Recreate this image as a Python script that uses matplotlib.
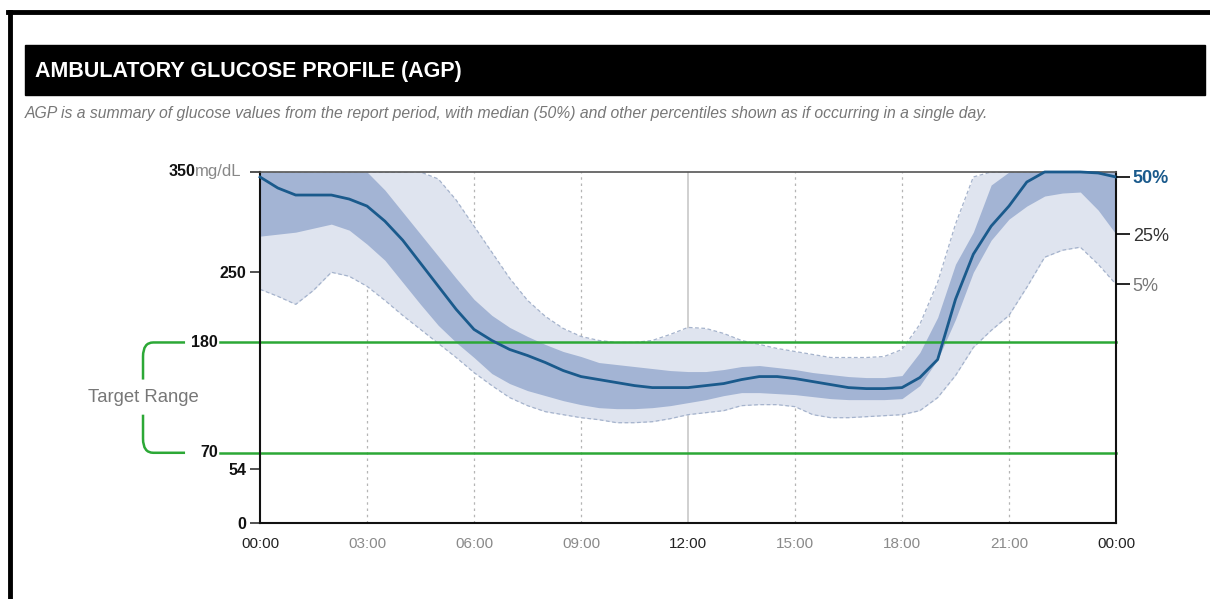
import matplotlib
matplotlib.use("Agg")
from matplotlib import pyplot as plt
from matplotlib import transforms
from matplotlib.path import Path
from matplotlib.patches import PathPatch, Rectangle
from matplotlib.lines import Line2D

plt.rcParams['font.family'] = ['Liberation Sans', 'DejaVu Sans']

# Hours of the day (half-hour steps)
hours = [i * 0.5 for i in range(49)]

# Percentile curves (mg/dL), 350 = clipped at top
p95 = [350, 350, 350, 350, 350, 350, 350, 350, 350, 350,
       343, 322, 296, 270, 244, 222, 206, 194, 186, 182,
       180, 180, 182, 188, 195, 194, 189, 182, 178, 174,
       171, 168, 165, 165, 165, 166, 173, 198, 240, 298,
       345, 350, 350, 350, 350, 350, 350, 350, 350]
p75 = [350, 350, 350, 350, 350, 350, 350, 332, 310, 288,
       266, 244, 223, 207, 195, 186, 178, 171, 166, 160,
       158, 156, 154, 152, 151, 151, 153, 156, 157, 155,
       153, 150, 148, 146, 145, 145, 147, 170, 205, 258,
       290, 337, 350, 350, 350, 350, 350, 350, 350]
p50 = [345, 334, 327, 327, 327, 323, 316, 301, 282, 259,
       236, 213, 193, 182, 173, 167, 160, 152, 146, 143,
       140, 137, 135, 135, 135, 137, 139, 143, 146, 146,
       144, 141, 138, 135, 134, 134, 135, 145, 163, 223,
       268, 296, 316, 340, 350, 350, 350, 349, 345]
p25 = [286, 288, 290, 294, 298, 292, 278, 262, 240, 218,
       197, 180, 165, 149, 139, 132, 127, 122, 118, 115,
       114, 114, 115, 117, 120, 123, 127, 130, 130, 129,
       128, 126, 124, 123, 123, 123, 124, 137, 163, 203,
       250, 282, 303, 316, 326, 329, 330, 312, 288]
p5 = [233, 226, 218, 232, 250, 246, 236, 222, 207, 193,
      179, 165, 150, 137, 125, 117, 111, 108, 105, 103,
      100, 100, 101, 104, 108, 110, 112, 117, 118, 118,
      116, 108, 105, 105, 106, 107, 108, 112, 125, 147,
      175, 192, 207, 235, 265, 272, 275, 258, 238]

target = [70, 180]
y_ticks = [0, 54, 250, 350]
x_ticks = [0, 3, 6, 9, 12, 15, 18, 21, 24]
x_labels = ['00:00', '03:00', '06:00', '09:00', '12:00', '15:00', '18:00', '21:00', '00:00']
pct_labels = ['50%', '25%', '5%']

c_light = '#dfe4ef'
c_dark = '#a3b4d4'
c_med = '#1a5a8c'
c_edge = '#a5b3cc'
c_green = '#2ca836'

fig = plt.figure(figsize=(12.1, 5.99), dpi=100)

# page border and header bar
fig.add_artist(Line2D([0.007, 1.0], [0.98, 0.98], color='black', lw=3.5))
fig.add_artist(Line2D([0.0085, 0.0085], [0.0, 0.98], color='black', lw=3.5))
fig.add_artist(Rectangle((0.0207, 0.8414), 0.9752, 0.0835, color='black'))
fig.text(0.029, 0.8798, 'AMBULATORY GLUCOSE PROFILE (AGP)', color='white',
         fontsize=15.5, fontweight='bold', va='center')
fig.text(0.0207, 0.8097, 'AGP is a summary of glucose values from the report period, with median (50%) '
         'and other percentiles shown as if occurring in a single day.',
         color='#777777', fontsize=11.3, style='italic', va='center')

ax = fig.add_axes([0.2149, 0.1269, 0.7074, 0.5860])
ax.set_xlim(0, 24)
ax.set_ylim(0, 350)

# grid
for h in x_ticks[1:-1]:
    if h == 12:
        ax.axvline(h, color='#c8c8c8', lw=1.2, zorder=0.5)
    else:
        ax.axvline(h, color='#b5b5b5', lw=0.9, ls=(0, (2, 3)), zorder=0.5)

ax.fill_between(hours, p5, p95, color=c_light, lw=0, zorder=1)
ax.plot(hours, p5, color=c_edge, lw=0.9, ls=(0, (3, 2)), zorder=1.1)
ax.plot(hours, p95, color=c_edge, lw=0.9, ls=(0, (3, 2)), zorder=1.1)
ax.fill_between(hours, p25, p75, color=c_dark, lw=0, zorder=1.2)

# target range lines, extended left of the axis
blend = transforms.blended_transform_factory(ax.transAxes, ax.transData)
for t in target:
    ax.plot([-0.047, 1.0], [t, t], color=c_green, lw=1.8, transform=blend,
            clip_on=False, zorder=2)
    ax.text(-0.049, t, str(t), transform=blend, ha='right', va='center',
            fontsize=11.5, fontweight='bold', color='#111111')

ax.plot(hours, p50, color=c_med, lw=2.0, zorder=3, clip_on=False,
        solid_joinstyle='round')

# target range bracket
xb, xe, r = -0.1367, -0.0876, 0.012
ry = 14
lo, hi = target
verts = [(xe, hi), (xb + r, hi), (xb, hi), (xb, hi - ry), (xb, 143)]
codes = [Path.MOVETO, Path.LINETO, Path.CURVE3, Path.CURVE3, Path.LINETO]
ax.add_patch(PathPatch(Path(verts, codes), fc='none', ec=c_green, lw=1.8,
                       transform=blend, clip_on=False))
verts = [(xb, 108), (xb, lo + ry), (xb, lo), (xb + r, lo), (xe, lo)]
codes = [Path.MOVETO, Path.LINETO, Path.CURVE3, Path.CURVE3, Path.LINETO]
ax.add_patch(PathPatch(Path(verts, codes), fc='none', ec=c_green, lw=1.8,
                       transform=blend, clip_on=False))
ax.text(xb, (lo + hi) / 2, 'Target Range', transform=blend, ha='center',
        va='center', fontsize=13.3, color='#777777')

# y axis
ax.set_yticks(y_ticks)
ax.set_yticklabels([str(v) if v != 350 else '' for v in y_ticks],
                   fontsize=11.5, fontweight='bold', color='#111111')
ax.tick_params(axis='y', length=7, width=1.1, color='#222222', pad=3)
ax.text(-0.0759, 350, '350', transform=blend, ha='right', va='center',
        fontsize=11.5, fontweight='bold', color='#111111')
ax.text(-0.0759, 350, 'mg/dL', transform=blend, ha='left', va='center',
        fontsize=12, color='#888888')

# x axis
ax.set_xticks(x_ticks)
ax.set_xticklabels(x_labels, fontsize=11)
for lab, h in zip(ax.get_xticklabels(), x_ticks):
    lab.set_color('#222222' if h % 12 == 0 else '#8a8a8a')
ax.tick_params(axis='x', length=0, pad=10)

for s in ['left', 'bottom', 'right']:
    ax.spines[s].set_color('#111111')
    ax.spines[s].set_linewidth(1.5)
ax.spines['top'].set_color('#555555')
ax.spines['top'].set_linewidth(1.2)

# percentile labels on the right
ax2 = ax.twinx()
ax2.set_ylim(0, 350)
ax2.set_yticks([p50[-1], p25[-1], p5[-1]])
ax2.set_yticklabels(pct_labels, fontsize=13)
ax2.tick_params(axis='y', length=10, width=1.2, pad=2)
for s in ax2.spines.values():
    s.set_visible(False)
pct_colors = [c_med, '#333333', '#777777']
tick_colors = [c_med, c_edge, c_edge]
for tk, tc, lc in zip(ax2.yaxis.get_major_ticks(), tick_colors, pct_colors):
    tk.tick2line.set_color(tc)
    tk.label2.set_color(lc)
ax2.yaxis.get_major_ticks()[0].label2.set_fontweight('bold')

fig.savefig('out.png', dpi=100)
